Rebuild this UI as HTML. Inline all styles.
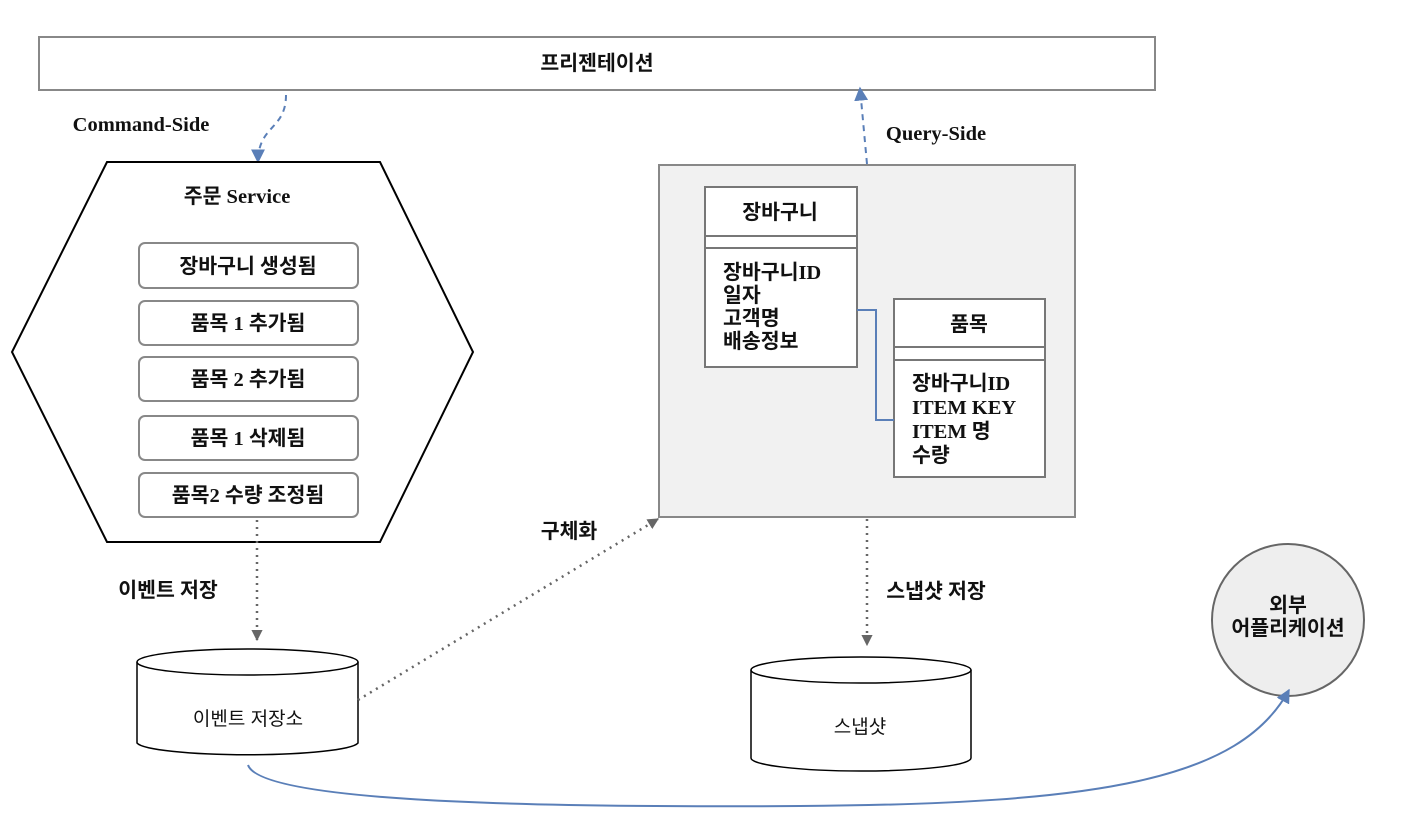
<!DOCTYPE html>
<html><head><meta charset="utf-8"><style>
html,body{margin:0;padding:0;background:#fff}
text{font-family:"Liberation Serif","Noto Sans CJK KR",serif;font-weight:bold;font-size:20.5px;fill:#111}
.s{font-family:"Liberation Sans","Noto Sans CJK KR",sans-serif;font-weight:normal;font-size:19px}
</style></head><body>
<svg width="1406" height="820" viewBox="0 0 1406 820" xmlns="http://www.w3.org/2000/svg">
<defs>
<marker id="ab" viewBox="0 0 10 10" refX="9" refY="5" markerWidth="7" markerHeight="7" orient="auto"><path d="M0,0L10,5L0,10z" fill="#5a7fb8"/></marker>
<marker id="ag" viewBox="0 0 10 10" refX="9" refY="5" markerWidth="4.5" markerHeight="4.5" orient="auto"><path d="M0,0L10,5L0,10z" fill="#666"/></marker>
</defs>
<rect x="39" y="37" width="1116" height="53" fill="#fff" stroke="#888" stroke-width="2"/>
<text x="597" y="70" text-anchor="middle">프리젠테이션</text>
<path d="M286,95 C286,130 258,125 258,162" fill="none" stroke="#5a7fb8" stroke-width="2" stroke-dasharray="6,5" marker-end="url(#ab)"/>
<text x="141" y="131" text-anchor="middle">Command-Side</text>
<polygon points="107,162 380,162 473,352 380,542 107,542 12,352" fill="#fff" stroke="#000" stroke-width="2"/>
<text x="237" y="203" text-anchor="middle">주문 Service</text>
<g fill="#fff" stroke="#888" stroke-width="2">
<rect x="139" y="243" width="219" height="45" rx="6"/>
<rect x="139" y="301" width="219" height="44" rx="6"/>
<rect x="139" y="357" width="219" height="44" rx="6"/>
<rect x="139" y="416" width="219" height="44" rx="6"/>
<rect x="139" y="473" width="219" height="44" rx="6"/>
</g>
<text x="248" y="273" text-anchor="middle">장바구니 생성됨</text>
<text x="248" y="330" text-anchor="middle">품목 1 추가됨</text>
<text x="248" y="386" text-anchor="middle">품목 2 추가됨</text>
<text x="248" y="445" text-anchor="middle">품목 1 삭제됨</text>
<text x="248" y="502" text-anchor="middle">품목2 수량 조정됨</text>
<line x1="257" y1="520" x2="257" y2="640" stroke="#666" stroke-width="2.5" stroke-dasharray="2,5" marker-end="url(#ag)"/>
<text x="168" y="597" text-anchor="middle">이벤트 저장</text>
<path d="M137,662 L137,743 A111,13 0 0 0 358,743 L358,662" fill="#fff" stroke="#000" stroke-width="1.5"/>
<ellipse cx="247.5" cy="662" rx="110.5" ry="13" fill="#fff" stroke="#000" stroke-width="1.5"/>
<text class="s" x="248" y="725" text-anchor="middle">이벤트 저장소</text>
<line x1="358" y1="700" x2="658" y2="519" stroke="#666" stroke-width="2.5" stroke-dasharray="2,5" marker-end="url(#ag)"/>
<text x="569" y="538" text-anchor="middle">구체화</text>
<rect x="659" y="165" width="416" height="352" fill="#f1f1f1" stroke="#888" stroke-width="2"/>
<line x1="867" y1="164" x2="860" y2="88" stroke="#5a7fb8" stroke-width="2" stroke-dasharray="6,5" marker-end="url(#ab)"/>
<text x="936" y="140" text-anchor="middle">Query-Side</text>
<g fill="#fff" stroke="#777" stroke-width="2">
<rect x="705" y="187" width="152" height="180"/>
<rect x="894" y="299" width="151" height="178"/>
</g>
<g stroke="#777" stroke-width="2">
<line x1="705" y1="236" x2="857" y2="236"/><line x1="705" y1="248" x2="857" y2="248"/>
<line x1="894" y1="347" x2="1045" y2="347"/><line x1="894" y1="360" x2="1045" y2="360"/>
</g>
<text x="780" y="219" text-anchor="middle">장바구니</text>
<text x="723" y="279">장바구니ID</text>
<text x="723" y="302">일자</text>
<text x="723" y="325">고객명</text>
<text x="723" y="348">배송정보</text>
<text x="969" y="331" text-anchor="middle">품목</text>
<text x="912" y="390">장바구니ID</text>
<text x="912" y="414">ITEM KEY</text>
<text x="912" y="438">ITEM 명</text>
<text x="912" y="462">수량</text>
<path d="M857,310 H876 V420 H894" fill="none" stroke="#5a7fb8" stroke-width="2"/>
<line x1="867" y1="519" x2="867" y2="645" stroke="#666" stroke-width="2.5" stroke-dasharray="2,5" marker-end="url(#ag)"/>
<text x="936" y="598" text-anchor="middle">스냅샷 저장</text>
<path d="M751,670 L751,758 A110,13 0 0 0 971,758 L971,670" fill="#fff" stroke="#000" stroke-width="1.5"/>
<ellipse cx="861" cy="670" rx="110" ry="13" fill="#fff" stroke="#000" stroke-width="1.5"/>
<text class="s" x="860" y="733" text-anchor="middle">스냅샷</text>
<circle cx="1288" cy="620" r="76" fill="#eee" stroke="#666" stroke-width="2"/>
<text x="1288" y="612" text-anchor="middle">외부</text>
<text x="1288" y="635" text-anchor="middle">어플리케이션</text>
<path d="M248,765 C260,800 500,808 800,806 C1100,804 1240,780 1289,690" fill="none" stroke="#5a7fb8" stroke-width="2" marker-end="url(#ab)"/>
</svg>
</body></html>
